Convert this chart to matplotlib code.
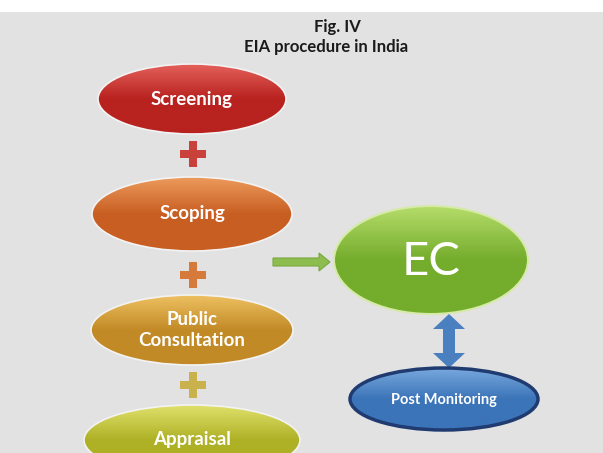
import numpy as np
import matplotlib.pyplot as plt
from matplotlib.patches import Ellipse, Rectangle, FancyArrow
from matplotlib.colors import LinearSegmentedColormap

plt.rcParams['font.family'] = ['Lato', 'DejaVu Sans']

title_lines = ["Fig. IV", "EIA procedure in India"]
steps = ["Screening", "Scoping", "Public\nConsultation", "Appraisal"]
result_label = "EC"
followup_label = "Post Monitoring"

# (light, dark) colour pairs for each step
step_colors = [("#e4605a", "#b8221f"), ("#ec9a5c", "#c85e22"),
               ("#eec061", "#c28a26"), ("#dfe06a", "#aeb126")]
plus_colors = ["#c8413b", "#d67a3c", "#c9b14e"]
ec_colors = ("#b5dc6a", "#74ac2c")
pm_colors = ("#78a8de", "#3b74b8")

W, H = 603, 453
fig = plt.figure(figsize=(W / 100, H / 100), dpi=100)
ax = fig.add_axes([0, 0, 1, 1])
ax.set_xlim(0, W)
ax.set_ylim(H, 0)
ax.axis('off')

# background: white page strip on top, grey marble panel below
fig.patch.set_facecolor("white")
ax.add_patch(Rectangle((0, 12), W, H - 12, facecolor="#e2e2e2", edgecolor="none", zorder=0))


def gradient_ellipse(cx, cy, w, h, light, dark, edge="#f3f3f3", lw=1.2, z=2):
    cmap = LinearSegmentedColormap.from_list("g", [light, dark, dark])
    grad = np.linspace(0, 1, 100).reshape(-1, 1)
    el = Ellipse((cx, cy), w, h, facecolor="none", edgecolor=edge, lw=lw, zorder=z + 1)
    ax.add_patch(el)
    im = ax.imshow(grad, cmap=cmap, aspect='auto', origin='upper',
                   extent=(cx - w / 2, cx + w / 2, cy + h / 2, cy - h / 2), zorder=z)
    im.set_clip_path(el)


def plus(cx, cy, color, size=26, bar=8):
    ax.add_patch(Rectangle((cx - size / 2, cy - bar / 2), size, bar, facecolor=color,
                           edgecolor="none", zorder=2))
    ax.add_patch(Rectangle((cx - bar / 2, cy - size / 2), bar, size, facecolor=color,
                           edgecolor="none", zorder=2))


# title
ax.text(337, 27, title_lines[0], ha='center', va='center', fontsize=12,
        fontweight='bold', color="#1a1a1a")
ax.text(326, 47, title_lines[1], ha='center', va='center', fontsize=12,
        fontweight='bold', color="#1a1a1a")

# left column of steps
step_y = [99, 214, 330, 440]
step_w = [188, 200, 202, 216]
step_h = [70, 74, 70, 70]
plus_y = [154, 275, 385]
for i, lab in enumerate(steps):
    light, dark = step_colors[i]
    gradient_ellipse(192, step_y[i], step_w[i], step_h[i], light, dark)
    ax.text(192, step_y[i], lab, ha='center', va='center', fontsize=13.5,
            fontweight='bold', color="white", linespacing=1.25, zorder=5)
for i, py in enumerate(plus_y):
    plus(193, py, plus_colors[i])

# arrow to EC
ax.add_patch(FancyArrow(273, 262, 46, 0, width=8, head_width=18, head_length=11,
                        length_includes_head=False, facecolor="#8dbd4f",
                        edgecolor="#7aa83e", lw=0.8, zorder=3))

# EC
gradient_ellipse(431, 260, 194, 108, ec_colors[0], ec_colors[1], edge="#d6eaa8", lw=1.5)
ax.text(431, 262, result_label, ha='center', va='center', fontsize=34,
        color="white", zorder=5)

# double arrow
for dy in (-1, 1):
    ax.add_patch(FancyArrow(449, 341, 0, dy * 12, width=12, head_width=32, head_length=15,
                            facecolor="#4a80c0", edgecolor="none", zorder=3))

# Post Monitoring
gradient_ellipse(444, 399, 188, 62, pm_colors[0], pm_colors[1], edge="#1f3b70", lw=2.5)
ax.text(444, 400, followup_label, ha='center', va='center', fontsize=10.5,
        fontweight='bold', color="white", zorder=5)

fig.savefig("out.png", dpi=100)
